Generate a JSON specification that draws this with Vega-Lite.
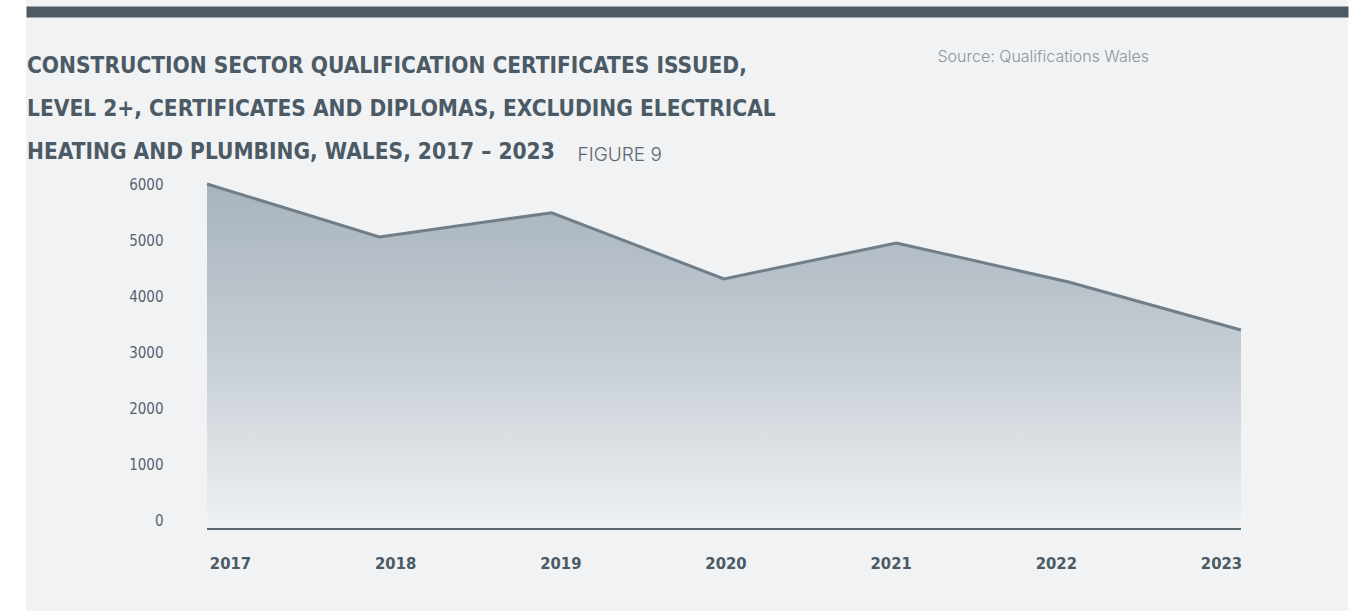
{
  "$schema": "https://vega.github.io/schema/vega-lite/v6.json",
  "autosize": {"type": "none"},
  "width": 1322,
  "height": 611,
  "padding": {"left": 26, "top": 0, "right": 10, "bottom": 0},
  "background": "#ffffff",
  "config": {"view": {"fill": "#f0f2f4", "stroke": null}},
  "title": {
    "text": ["CONSTRUCTION SECTOR QUALIFICATION CERTIFICATES ISSUED,", "LEVEL 2+, CERTIFICATES AND DIPLOMAS, EXCLUDING ELECTRICAL", "HEATING AND PLUMBING, WALES, 2017 – 2023"],
    "anchor": "start",
    "frame": "group",
    "orient": "top",
    "dx": 1,
    "offset": -186,
    "baseline": "bottom",
    "font": "DejaVu Sans Condensed, sans-serif",
    "fontSize": 22.5,
    "fontWeight": "bold",
    "color": "#4b5a64",
    "lineHeight": 43
  },
  "data": {"values": [
    {"year": 2017, "certificates": 6000},
    {"year": 2018, "certificates": 5080},
    {"year": 2019, "certificates": 5500},
    {"year": 2020, "certificates": 4350},
    {"year": 2021, "certificates": 4975},
    {"year": 2022, "certificates": 4295},
    {"year": 2023, "certificates": 3460}
  ]},
  "resolve": {"axis": {"x": "independent"}},
  "layer": [
    {
      "mark": {
        "type": "area",
        "opacity": 1,
        "fillOpacity": 1,
        "fill": {"gradient": "linear", "x1": 0, "y1": 0, "x2": 0, "y2": 1, "stops": [
          {"offset": 0, "color": "#a8b3bc"},
          {"offset": 0.5, "color": "#c6ced5"},
          {"offset": 1, "color": "#eff1f3"}
        ]},
        "line": {"stroke": "#6f7e89", "strokeWidth": 3}
      },
      "encoding": {
        "x": {
          "field": "year", "type": "quantitative",
          "scale": {"domain": [2015.9497, 2023.6209], "nice": false, "zero": false},
          "axis": {
            "orient": "bottom", "offset": -82, "domain": false, "ticks": false, "tickSize": 0, "grid": false,
            "values": [2017, 2018, 2019, 2020, 2021, 2022, 2023], "format": "d",
            "labelFont": "DejaVu Sans Condensed, sans-serif",
            "labelFontSize": 16.5, "labelFontWeight": "bold",
            "labelColor": "#4b5a64", "labelPadding": 26, "labelAlign": "center", "labelFlush": false,
            "labelOffset": {"expr": "23 - 7.17*(datum.value - 2017)"},
            "title": null
          }
        },
        "y": {
          "field": "certificates", "type": "quantitative",
          "scale": {"domain": [-1426.09, 9200], "nice": false, "zero": false},
          "axis": {
            "orient": "left", "offset": -137, "domain": false, "ticks": false, "tickSize": 0, "grid": false,
            "values": [0, 1000, 2000, 3000, 4000, 5000, 6000], "format": "d",
            "labelFont": "DejaVu Sans Condensed, sans-serif",
            "labelFontSize": 15, "labelFontWeight": "normal", "labelColor": "#56646e",
            "labelPadding": 0, "labelOffset": {"expr": "-8 + 0.0015*datum.value"},
            "title": "FIGURE 9", "titleAngle": 0, "titleX": 414, "titleY": 160,
            "titleAlign": "left", "titleBaseline": "alphabetic",
            "titleFont": "Inter", "titleFontSize": 19, "titleFontWeight": 300, "titleColor": "#5b6771"
          }
        }
      }
    },
    {
      "mark": {"type": "rule", "color": "#5b6973", "strokeWidth": 2},
      "encoding": {
        "x": {
          "aggregate": "min", "field": "year", "type": "quantitative",
          "axis": {
            "orient": "top", "offset": -11.5, "domain": true, "domainColor": "#4b5a64", "domainWidth": 11,
            "domainCap": "butt", "ticks": false, "labels": false, "grid": false,
            "title": "Source: Qualifications Wales", "titleX": 911, "titleY": 49.5,
            "titleAlign": "left", "titleBaseline": "alphabetic", "titleAngle": 0,
            "titleFont": "Inter", "titleFontSize": 16, "titleFontWeight": 300, "titleColor": "#8a959e"
          }
        },
        "x2": {"aggregate": "max", "field": "year"},
        "y": {"datum": 0, "type": "quantitative"}
      }
    }
  ]
}
